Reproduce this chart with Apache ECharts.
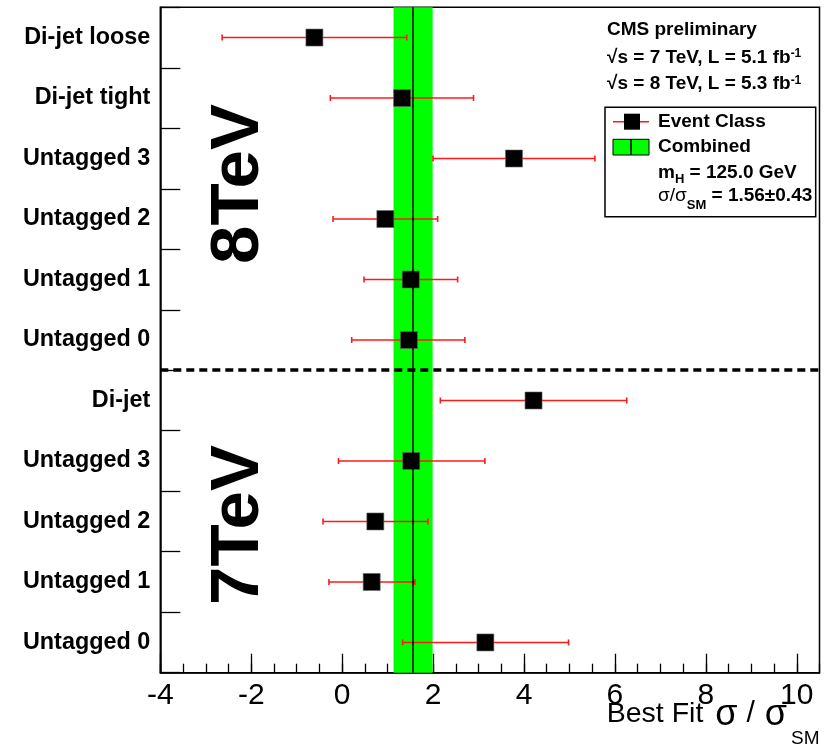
<!DOCTYPE html>
<html>
<head>
<meta charset="utf-8">
<script src="https://cdn.jsdelivr.net/npm/echarts@6/dist/echarts.min.js"></script>
<style>html,body{margin:0;padding:0;background:#fff;}#c{width:835px;height:750px;}</style>
</head>
<body>
<div id="c"></div>
<script>
// ---- data (top to bottom) ----
var categories = ['Di-jet loose','Di-jet tight','Untagged 3','Untagged 2','Untagged 1','Untagged 0',
                  'Di-jet','Untagged 3','Untagged 2','Untagged 1','Untagged 0'];
var bestFit = [-0.61, 1.32, 3.78, 0.95, 1.51, 1.47, 4.21, 1.52, 0.73, 0.65, 3.15];
var errLow  = [-2.64, -0.26, 2.00, -0.20, 0.48, 0.21, 2.16, -0.08, -0.42, -0.29, 1.33];
var errHigh = [ 1.42, 2.89, 5.56, 2.10, 2.54, 2.70, 6.26, 3.14, 1.89, 1.60, 4.98];
var combined = 1.56, combinedErr = 0.43;
var energySplit = 6; // boundary between 8 TeV and 7 TeV rows
var xTicksMajor = 2, xTicksMinor = 0.5, xMin = -4, xMax = 10.5;

var FONT = '"Liberation Sans", Arial, Helvetica, sans-serif';

var chart = echarts.init(document.getElementById('c'), null, {renderer: 'canvas'});

var scatterData = bestFit.map(function (v, i) { return [v, i]; });
var errData = bestFit.map(function (v, i) { return [errLow[i], errHigh[i], i]; });

var LFS = 19, L = 22;
var richLeg = {
  a: {fontFamily: FONT, fontWeight: 'bold', fontSize: LFS, lineHeight: L},
  r: {fontFamily: FONT, fontWeight: 'normal', fontSize: LFS, lineHeight: L},
  sub: {fontFamily: FONT, fontWeight: 'bold', fontSize: 13, lineHeight: L, padding: [14, 0, 0, 0]},
  sub2: {fontFamily: FONT, fontWeight: 'bold', fontSize: 13, lineHeight: L, padding: [18, 0, 0, 0]},
  sup: {fontFamily: FONT, fontWeight: 'bold', fontSize: 12, lineHeight: L, padding: [0, 0, 7, 0]}
};
function rt(x, yc, text) {
  return {type: 'text', x: x, y: yc - L / 2, z: 100,
    style: {text: text, fill: '#000', fontFamily: FONT, fontWeight: 'bold', fontSize: LFS,
      align: 'left', verticalAlign: 'top', rich: richLeg}};
}

var option = {
  backgroundColor: '#fff',
  animation: false,
  grid: {left: 160.3, right: 15.5, top: 7.3, bottom: 77.3, containLabel: false, outerBoundsMode: 'none',
    show: true, borderColor: '#000', borderWidth: 1.5, backgroundColor: 'transparent'},
  xAxis: [{
    type: 'value', position: 'bottom', min: xMin, max: xMax, interval: xTicksMajor,
    axisLine: {show: true, onZero: false, lineStyle: {color: '#000', width: 1.5}},
    axisTick: {show: true, inside: true, length: 19, lineStyle: {color: '#000', width: 1.3}},
    axisLabel: {fontSize: 30, color: '#000', fontFamily: FONT, margin: 8, showMaxLabel: false},
    splitLine: {show: false}
  }, {
    type: 'value', position: 'bottom', min: xMin, max: xMax, interval: xTicksMinor,
    axisLine: {show: false, onZero: false},
    axisTick: {show: true, inside: true, length: 9, lineStyle: {color: '#000', width: 1.3}},
    axisLabel: {show: false}, splitLine: {show: false}
  }],
  yAxis: [{
    type: 'value', position: 'left', min: 0, max: categories.length, interval: 1, inverse: true,
    axisLine: {show: true, onZero: false, lineStyle: {color: '#000', width: 1.5}},
    axisTick: {show: true, inside: true, length: 20, lineStyle: {color: '#000', width: 1.3}},
    axisLabel: {show: false}, splitLine: {show: false}
  }, {
    type: 'category', position: 'left', data: categories, inverse: true,
    axisLine: {show: false, onZero: false}, axisTick: {show: false},
    axisLabel: {fontSize: 23.4, fontWeight: 'bold', color: '#000', fontFamily: FONT, margin: 10, interval: 0}
  }],
  series: [{
    type: 'scatter', xAxisIndex: 0, yAxisIndex: 0, data: [], z: 1, silent: true,
    markArea: {silent: true, itemStyle: {color: '#00ff00', opacity: 1},
      data: [[{xAxis: combined - combinedErr}, {xAxis: combined + combinedErr}]]},
    markLine: {silent: true, symbol: 'none', label: {show: false},
      data: [
        {xAxis: combined, lineStyle: {color: '#000', width: 1.5, type: 'solid'}},
        {yAxis: energySplit, lineStyle: {color: '#000', width: 3.5, type: [8, 5]}}
      ]}
  }, {
    type: 'custom', xAxisIndex: 0, yAxisIndex: 1, z: 3, silent: true,
    data: errData,
    encode: {x: [0, 1], y: 2},
    renderItem: function (params, api) {
      var lo = api.coord([api.value(0), api.value(2)]);
      var hi = api.coord([api.value(1), api.value(2)]);
      var h = 3;
      var st = {stroke: '#ff1a1a', lineWidth: 1.6};
      return {type: 'group', children: [
        {type: 'line', shape: {x1: lo[0], y1: lo[1], x2: hi[0], y2: hi[1]}, style: st},
        {type: 'line', shape: {x1: lo[0], y1: lo[1] - h, x2: lo[0], y2: lo[1] + h}, style: st},
        {type: 'line', shape: {x1: hi[0], y1: hi[1] - h, x2: hi[0], y2: hi[1] + h}, style: st}
      ]};
    }
  }, {
    type: 'scatter', xAxisIndex: 0, yAxisIndex: 1, z: 4, silent: true,
    symbol: 'rect', symbolSize: 17,
    itemStyle: {color: '#000', borderColor: '#666', borderWidth: 0.6, opacity: 1},
    data: scatterData
  }],
  graphic: [
    {type: 'text', x: 238.5, y: 184, rotation: Math.PI / 2, z: 50,
      style: {text: '8TeV', fill: '#000', fontFamily: FONT, fontWeight: 'bold', fontSize: 69, align: 'center', verticalAlign: 'middle'}},
    {type: 'text', x: 238.5, y: 525, rotation: Math.PI / 2, z: 50,
      style: {text: '7TeV', fill: '#000', fontFamily: FONT, fontWeight: 'bold', fontSize: 69, align: 'center', verticalAlign: 'middle'}},
    {type: 'text', x: 819.5, y: 699, z: 50,
      style: {text: '{a|Best Fit }{g|σ}{sl|/}{g|σ}{s|SM}', fill: '#000', align: 'right', verticalAlign: 'top',
        fontFamily: FONT, fontSize: 28,
        rich: {
          a: {fontFamily: FONT, fontSize: 28.5, lineHeight: 30},
          g: {fontFamily: FONT, fontSize: 36, lineHeight: 30, padding: [2, 4, 0, 4]},
          sl: {fontFamily: FONT, fontSize: 30, lineHeight: 30, padding: [0, 6, 0, 5]},
          s: {fontFamily: FONT, fontSize: 19, lineHeight: 30, padding: [50, 0, 0, 0]}
        }}},
    rt(607, 30, '{a|CMS preliminary}'),
    rt(607, 57.5, '{a|√s = 7 TeV, L = 5.1 fb}{sup|-1}'),
    rt(607, 84, '{a|√s = 8 TeV, L = 5.3 fb}{sup|-1}'),
    {type: 'rect', z: 90, shape: {x: 605, y: 107.3, width: 210.7, height: 109.4},
      style: {fill: '#fff', stroke: '#000', lineWidth: 1.5}},
    {type: 'line', z: 95, shape: {x1: 613, y1: 121.7, x2: 649, y2: 121.7}, style: {stroke: '#ff1a1a', lineWidth: 1.6}},
    {type: 'rect', z: 96, shape: {x: 624, y: 113.7, width: 16, height: 16}, style: {fill: '#000'}},
    rt(658, 121.7, '{a|Event Class}'),
    {type: 'rect', z: 95, shape: {x: 613, y: 139.3, width: 36, height: 15.7}, style: {fill: '#00ff00', stroke: '#000', lineWidth: 1}},
    {type: 'line', z: 96, shape: {x1: 631, y1: 139.3, x2: 631, y2: 155}, style: {stroke: '#000', lineWidth: 1.5}},
    rt(658, 146.7, '{a|Combined}'),
    rt(658, 172.5, '{a|m}{sub|H}{a| = 125.0 GeV}'),
    rt(658, 196, '{r|σ/σ}{sub2|SM}{a| = 1.56±0.43}')
  ]
};
chart.setOption(option);
</script>
</body>
</html>
